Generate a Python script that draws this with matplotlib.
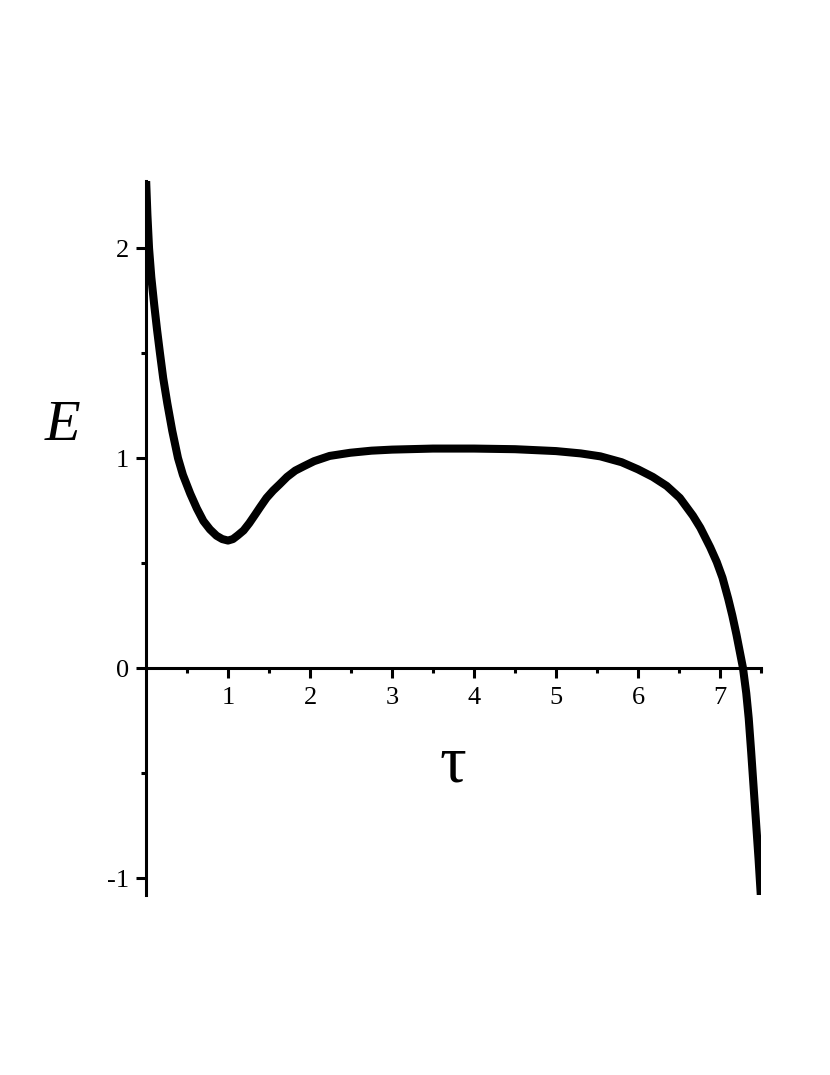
import matplotlib
matplotlib.use("Agg")
import matplotlib.pyplot as plt

# ==========================================================
# Curve values

tau = [0.00, 0.017, 0.037, 0.065, 0.10, 0.135, 0.17, 0.21, 0.26, 0.32,
       0.39, 0.45, 0.54, 0.62, 0.70, 0.78, 0.86, 0.93, 1.00, 1.06,
       1.12, 1.19, 1.26, 1.33, 1.39, 1.47, 1.55, 1.63, 1.72, 1.82,
       1.92, 2.05, 2.24, 2.49, 2.75, 3.00, 3.50, 4.00, 4.50, 5.00,
       5.30, 5.54, 5.80, 6.00, 6.18, 6.35, 6.51, 6.67, 6.76, 6.88,
       6.96, 7.03, 7.10, 7.15, 7.20, 7.24, 7.28, 7.32, 7.35, 7.38,
       7.41, 7.44, 7.47, 7.50]

energy = [2.34, 2.16, 2.00, 1.86, 1.73, 1.61, 1.50, 1.38, 1.26, 1.13,
          1.00, 0.92, 0.83, 0.76, 0.70, 0.66, 0.63, 0.614, 0.607, 0.614,
          0.632, 0.655, 0.69, 0.73, 0.765, 0.81, 0.845, 0.875, 0.91, 0.94,
          0.96, 0.985, 1.01, 1.025, 1.035, 1.040, 1.045, 1.045, 1.042, 1.033,
          1.022, 1.008, 0.98, 0.946, 0.91, 0.867, 0.810, 0.725, 0.668, 0.575,
          0.505, 0.43, 0.33, 0.25, 0.16, 0.08, 0.00, -0.12, -0.24, -0.40,
          -0.57, -0.74, -0.91, -1.10]

x_major = [1, 2, 3, 4, 5, 6, 7]
x_minor = [0.5, 1.5, 2.5, 3.5, 4.5, 5.5, 6.5, 7.5]
y_major = [-1, 0, 1, 2]
y_minor = [-0.5, 0.5, 1.5]

plt.rcParams["font.family"] = ["Liberation Serif", "DejaVu Serif"]
plt.rcParams["axes.unicode_minus"] = False

fig = plt.figure(figsize=(8.3, 10.75), dpi=100)
ax = fig.add_axes([0.1759, 0.1676, 0.741, 0.6642])

ax.plot(tau, energy, color="black", linewidth=5.8, solid_capstyle="butt",
        solid_joinstyle="round")

ax.set_xlim(0, 7.5)
ax.set_ylim(-1.08, 2.32)

ax.spines["left"].set_position(("data", 0))
ax.spines["bottom"].set_position(("data", 0))
ax.spines["top"].set_visible(False)
ax.spines["right"].set_visible(False)
for s in ["left", "bottom"]:
    ax.spines[s].set_linewidth(2.2)

ax.set_xticks(x_major)
ax.set_xticks(x_minor, minor=True)
ax.set_yticks(y_major)
ax.set_yticks(y_minor, minor=True)
ax.set_xticklabels([str(v) for v in x_major])
ax.set_yticklabels([str(v) for v in y_major])

ax.tick_params(axis="both", which="major", direction="out", length=7.5,
               width=2.2, labelsize=19)
ax.tick_params(axis="both", which="minor", direction="out", length=3.5,
               width=2.2)
ax.tick_params(axis="x", which="major", pad=6)
ax.tick_params(axis="y", which="major", pad=5)

fig.text(0.0747, 0.6037, "E", fontsize=42, style="italic",
         ha="center", va="center")
fig.text(0.5458, 0.2884, "τ", fontsize=48, ha="center", va="center")

fig.savefig("out.png", dpi=100, facecolor="white")
